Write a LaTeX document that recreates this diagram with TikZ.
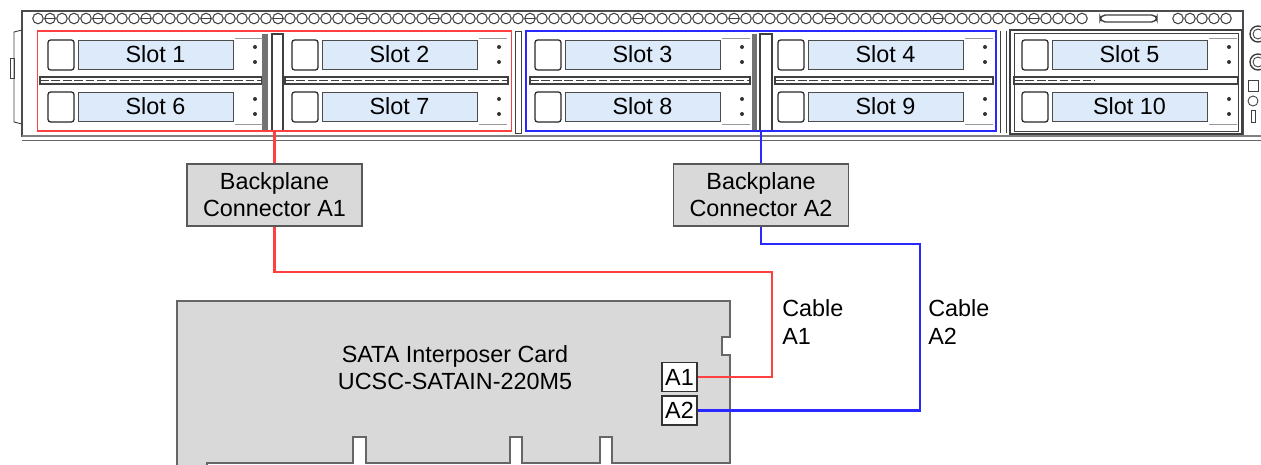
\documentclass[tikz,border=0pt]{standalone}
\usepackage{fontspec}
\setmainfont{Liberation Sans}
\usetikzlibrary{calc,positioning}
\definecolor{slotblue}{RGB}{220,234,250}
\definecolor{cardgray}{RGB}{217,217,217}
\definecolor{cablered}{RGB}{255,64,64}
\definecolor{cableblue}{RGB}{40,40,255}

\begin{document}
\begin{tikzpicture}[x=0.02cm,y=-0.02cm,
		font=\fontsize{13.3}{15.5}\selectfont,
		hw/.style={draw=black!75,line width=0.5pt},
		handle/.style={draw=black!85,rounded corners=1.5pt,line width=0.7pt},
		slotlbl/.style={draw=black!70,fill=slotblue,minimum width=3.1cm,minimum height=0.58cm,inner sep=0pt},
		bayframe/.style={line width=1pt,minimum height=2cm,inner sep=0pt},
		bpbox/.style={draw=black!65,fill=cardgray,line width=0.8pt,minimum width=3.5cm,minimum height=1.24cm,align=center,inner sep=0pt},
		port/.style={draw=black!80,fill=white,line width=0.6pt,minimum width=0.7cm,minimum height=0.58cm,inner sep=0pt},
		cable/.style={line width=1.2pt},
		cablelbl/.style={align=left,anchor=west,inner sep=0pt}]
			\useasboundingbox (0,0) rectangle (1261,465);
			% chassis
			\draw[hw,draw=black!70,line width=1pt] (22,137) -- (22,11) -- (1243,11) -- (1243,137);
			\draw[hw,draw=black!50,line width=0.9pt] (22,136) -- (1261,136);
			\draw[hw,draw=black!60] (22,140) -- (1261,140);
			\draw[hw] (22,30) -- (14,32) -- (14,122) -- (22,124);
			\draw[hw] (10,58) rectangle (14,78);
			\foreach \i in {0,...,87}
			\draw[hw,line width=0.6pt] (38+12*\i,18.5) circle (0.105cm);
			\foreach \i in {1,5,9,14,20,27,33,41,50,58,66,75,83}
			\draw[hw] (33+12*\i,18.5) -- (43+12*\i,18.5);
			\draw[hw,line width=0.8pt,rounded corners=3pt] (1100,15) rectangle (1157,22);
			\foreach \i in {0,...,4}
			\draw[hw,line width=0.6pt] (1178+12*\i,18.5) circle (0.105cm);
			% right panel
			\draw[hw,line width=0.8pt] (1258,34) circle (0.16cm) (1258,62) circle (0.16cm);
			\draw[hw] (1258,34) circle (0.1cm) (1258,62) circle (0.1cm);
			\draw[hw] (1248,80) rectangle (1258,91);
			\draw[hw] (1253,101) circle (0.1cm);
			\draw[hw] (1251,110) rectangle (1255,122);
			% rails between rows
			\foreach \a/\b in {40/262,285/508,530/750,775/993}
			{\draw[hw,line width=0.7pt] (\a,77) rectangle (\b,84);
			\draw[hw,line width=0.9pt,dash pattern=on 5pt off 1.5pt] (\a,80.5) -- (\b,80.5);}
			\draw[hw,line width=0.7pt] (1014,77) rectangle (1238,84);
			\draw[hw,line width=0.9pt,dash pattern=on 5pt off 1.5pt] (1014,80.5) -- (1095,80.5);
			% dividers
			\fill[black!55] (262,34) rectangle (268,131);
			\draw[hw,line width=0.7pt] (272,34) rectangle (283,131);
			\draw[hw] (515,31) rectangle (521,133);
			\fill[black!55] (752,34) rectangle (757,131);
			\draw[hw,line width=0.7pt] (760,34) rectangle (772,131);
			\draw[hw] (1000,31) -- (1000,133) (1006,31) -- (1006,133);
			\draw[hw,line width=0.7pt] (1010,30) rectangle (1242,134);
			\draw[hw] (1014,33) rectangle (1238,131);
			% drives
			\foreach \n/\m/\lx in {1/6/78,2/7/322,3/8/565,4/9/808,5/10/1052}
			{\draw[handle] (\lx-30,40) rectangle (\lx-4,70);
			\node[slotlbl] (slot\n) at (\lx+77.5,54.5) {Slot \n};
			\draw[handle] (\lx-30,92) rectangle (\lx-4,122);
			\node[slotlbl] (slot\m) at (\lx+77.5,106.5) {Slot \m};
			\foreach \y in {47,62,99,114}
			\fill[black!80] (\lx+177,\y) circle (0.04cm);
			\draw[hw,draw=black!40] (\lx+157,38) -- (\lx+185,38) (\lx+157,124) -- (\lx+185,124);}
			% bays
			\node[bayframe,draw=cablered,minimum width=9.48cm] (bayA1) at (274.5,81) {};
			\node[bayframe,draw=cableblue,minimum width=9.4cm] (bayA2) at (761,81) {};
			% backplane connectors
			\node[bpbox] (bpA1) at (274.5,195) {Backplane\\Connector A1};
			\node[bpbox] (bpA2) at (761,195) {Backplane\\Connector A2};
			% interposer card
			\draw[draw=black!60,fill=cardgray,line width=0.7pt] (177,467) -- (177,301) -- (730,301) -- (730,337) -- (722,337) -- (722,355) -- (730,355) -- (730,463) -- (612,463) -- (612,437) -- (600,437) -- (600,463) -- (522,463) -- (522,437) -- (510,437) -- (510,463) -- (366,463) -- (366,437) -- (353,437) -- (353,463) -- (207,463) -- (207,467);
			\node[align=center] (card) at (455,368) {SATA Interposer Card\\UCSC-SATAIN-220M5};
			\node[port] (portA1) at (679.5,377) {A1};
			\node[port] (portA2) at (679.5,410.5) {A2};
			% cables
			\coordinate (bendA1) at (772,272);
			\coordinate (bendA2) at (920,244);
			\draw[cable,cablered] (bayA1.south) -- (bpA1.north);
			\draw[cable,cablered] (bpA1.south) |- (bendA1) |- (portA1.east);
			\draw[cable,cableblue] (bayA2.south) -- (bpA2.north);
			\draw[cable,cableblue] (bpA2.south) |- (bendA2) |- (portA2.east);
			\node[cablelbl] (lblA1) at (782,322) {Cable\\A1};
			\node[cablelbl] (lblA2) at (928,322) {Cable\\A2};
		\end{tikzpicture}
\end{document}
